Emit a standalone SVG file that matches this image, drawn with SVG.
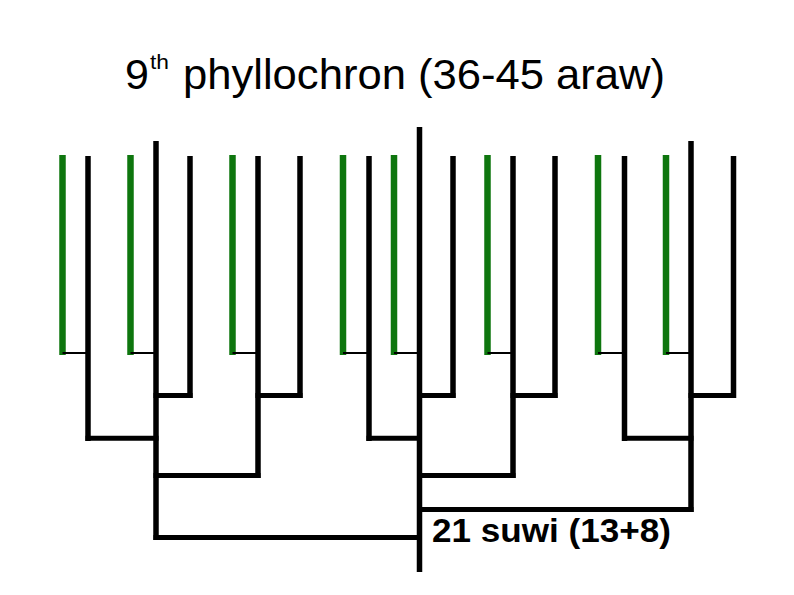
<svg xmlns="http://www.w3.org/2000/svg" width="794" height="595" viewBox="0 0 794 595">
<style>
.k{stroke:#000;stroke-width:5.5;fill:none}
.g{stroke:#0e760e;stroke-width:6.5;fill:none}
.t{stroke:#000;stroke-width:2;fill:none}
.h{stroke:#000;stroke-width:5;fill:none;stroke-linecap:square}
.title{font-family:"Liberation Sans",Arial,sans-serif;fill:#000}
</style>
<rect width="794" height="595" fill="#fff"/>
<text class="title" x="125" y="89" font-size="43">9</text>
<text class="title" x="150" y="69" font-size="20" textLength="19" lengthAdjust="spacingAndGlyphs">th</text>
<text class="title" x="183" y="89" font-size="43" textLength="482" lengthAdjust="spacingAndGlyphs">phyllochron (36-45 araw)</text>
<g id="leaf1"><line class="g" x1="62.5" y1="155" x2="62.5" y2="355"/></g>
<g id="leaf2"><line class="k" x1="88" y1="156" x2="88" y2="441"/></g>
<g id="leaf3"><line class="g" x1="130.5" y1="155" x2="130.5" y2="355"/></g>
<g id="leaf4"><line class="k" x1="156" y1="141" x2="156" y2="540"/></g>
<g id="leaf5"><line class="k" x1="190" y1="156" x2="190" y2="398"/></g>
<g id="leaf6"><line class="g" x1="232.5" y1="155" x2="232.5" y2="355"/></g>
<g id="leaf7"><line class="k" x1="258" y1="156" x2="258" y2="478"/></g>
<g id="leaf8"><line class="k" x1="300" y1="156" x2="300" y2="398"/></g>
<g id="leaf9"><line class="g" x1="343" y1="155" x2="343" y2="355"/></g>
<g id="leaf10"><line class="k" x1="369" y1="156" x2="369" y2="441"/></g>
<g id="leaf11"><line class="g" x1="394" y1="155" x2="394" y2="355"/></g>
<g id="leaf12"><line class="k" x1="419.5" y1="127" x2="419.5" y2="572"/></g>
<g id="leaf13"><line class="k" x1="453" y1="156" x2="453" y2="398"/></g>
<g id="leaf14"><line class="g" x1="487.5" y1="155" x2="487.5" y2="355"/></g>
<g id="leaf15"><line class="k" x1="513" y1="156" x2="513" y2="478"/></g>
<g id="leaf16"><line class="k" x1="555" y1="156" x2="555" y2="398"/></g>
<g id="leaf17"><line class="g" x1="598" y1="155" x2="598" y2="355"/></g>
<g id="leaf18"><line class="k" x1="624.5" y1="156" x2="624.5" y2="441"/></g>
<g id="leaf19"><line class="g" x1="666" y1="155" x2="666" y2="355"/></g>
<g id="leaf20"><line class="k" x1="691" y1="141" x2="691" y2="512"/></g>
<g id="leaf21"><line class="k" x1="733.5" y1="156" x2="733.5" y2="398"/></g>
<g id="connectors">
<path class="t" d="M62.5 353H88M130.5 353H156M232.5 353H258M343 353H369M394 353H419.5M487.5 353H513M598 353H624.5M666 353H691"/>
<path class="h" d="M88 438.2H156M369 438.2H419.5M624.5 438.2H691"/>
<path class="h" d="M156 395.5H190M258 395.5H300M419.5 395.5H453M513 395.5H555M691 395.5H733.5"/>
<path class="h" d="M156 475.5H258M419.5 475.5H513"/>
<path class="h" d="M419.5 509.5H691"/>
<path class="h" d="M156 537.5H419.5"/>
</g>
<text class="title" x="432" y="542" font-size="33" font-weight="bold" textLength="239" lengthAdjust="spacingAndGlyphs">21 suwi (13+8)</text>
</svg>
